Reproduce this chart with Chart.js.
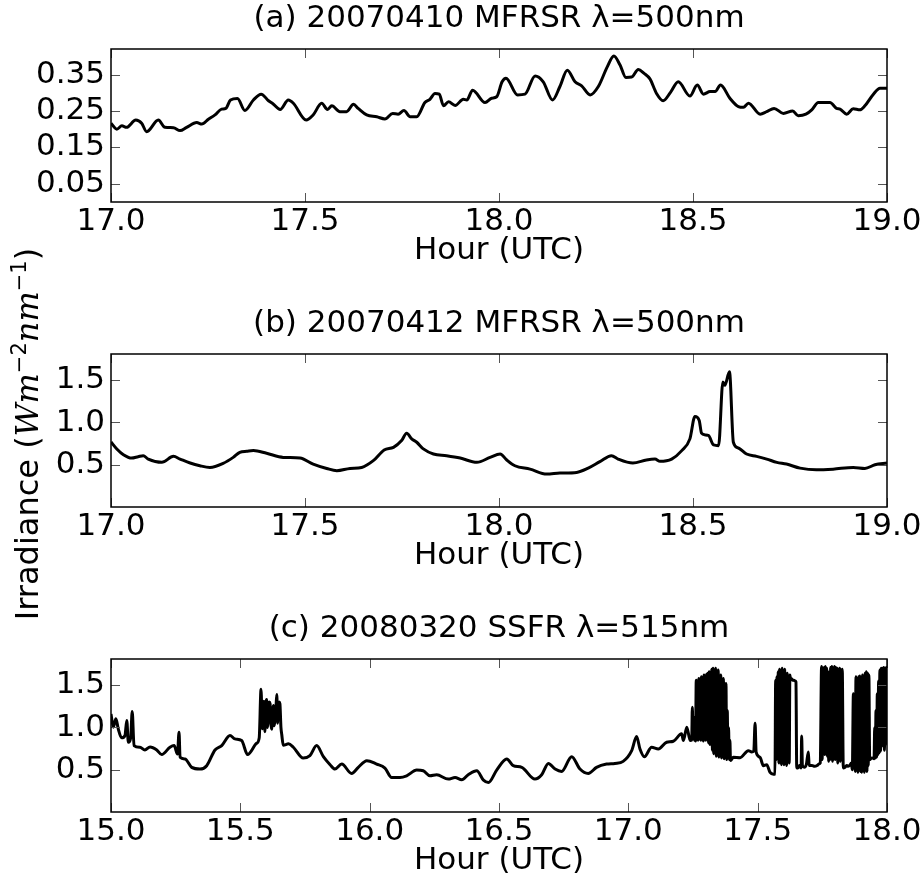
<!DOCTYPE html>
<html>
<head>
<meta charset="utf-8">
<script src="https://cdn.jsdelivr.net/npm/chart.js@4.4.0/dist/chart.umd.min.js"></script>
<style>
  html, body { margin: 0; padding: 0; background: #fff; overflow: hidden; }
  #wrap { position: relative; width: 923px; height: 880px; }
  canvas { position: absolute; left: 0; }
  #ylabel {
    position: absolute; left: -173px; top: 414px; width: 400px; height: 40px;
    line-height: 40px; text-align: center; white-space: nowrap;
    font-family: "DejaVu Sans"; font-size: 32px; color: #000;
    transform: rotate(-90deg);
  }
  #ylabel i { font-family: "DejaVu Serif"; }
  #ylabel sup { font-size: 21px; line-height: 0; }
</style>
</head>
<body>
<div id="wrap">
  <canvas id="panelA" width="923" height="305" style="top:0px"></canvas>
  <canvas id="panelB" width="923" height="305" style="top:305px"></canvas>
  <canvas id="panelC" width="923" height="305" style="top:610px"></canvas>
  <div id="ylabel">Irradiance (<i>Wm</i><sup>−2</sup><i>nm</i><sup>−1</sup>)</div>
</div>
<script>
// (a) 20070410 MFRSR
const hoursA = [
  17.000, 17.015, 17.028, 17.040, 17.064, 17.079, 17.092, 17.122, 17.139, 17.161,
  17.178, 17.195, 17.221, 17.234, 17.251, 17.268, 17.285, 17.296, 17.308, 17.326,
  17.345, 17.367, 17.387, 17.406, 17.418, 17.436, 17.457, 17.470, 17.503, 17.521,
  17.543, 17.558, 17.569, 17.590, 17.607, 17.625, 17.637, 17.659, 17.685, 17.706,
  17.726, 17.740, 17.755, 17.771, 17.788, 17.809, 17.822, 17.835, 17.846, 17.857,
  17.870, 17.887, 17.908, 17.917, 17.932, 17.964, 17.981, 17.994, 18.008, 18.018,
  18.048, 18.067, 18.093, 18.114, 18.138, 18.157, 18.176, 18.196, 18.213, 18.235,
  18.256, 18.279, 18.296, 18.312, 18.327, 18.342, 18.359, 18.374, 18.389, 18.406,
  18.423, 18.442, 18.462, 18.492, 18.511, 18.527, 18.544, 18.557, 18.571, 18.595,
  18.617, 18.630, 18.643, 18.673, 18.690, 18.709, 18.733, 18.757, 18.771, 18.791,
  18.806, 18.823, 18.853, 18.870, 18.879, 18.896, 18.913, 18.930, 18.943, 18.965,
  18.982, 19.000
];
const irrA = [
  0.216, 0.200, 0.209, 0.205, 0.225, 0.216, 0.193, 0.225, 0.205, 0.204,
  0.196, 0.205, 0.218, 0.214, 0.227, 0.239, 0.255, 0.257, 0.280, 0.284,
  0.251, 0.280, 0.296, 0.278, 0.269, 0.254, 0.280, 0.271, 0.225, 0.239,
  0.271, 0.254, 0.264, 0.248, 0.248, 0.268, 0.257, 0.239, 0.234, 0.228,
  0.243, 0.241, 0.251, 0.234, 0.234, 0.273, 0.282, 0.298, 0.296, 0.264,
  0.275, 0.265, 0.282, 0.280, 0.307, 0.273, 0.285, 0.289, 0.330, 0.340,
  0.294, 0.296, 0.346, 0.330, 0.280, 0.317, 0.362, 0.330, 0.319, 0.294,
  0.317, 0.371, 0.401, 0.376, 0.342, 0.343, 0.364, 0.353, 0.338, 0.298,
  0.278, 0.301, 0.330, 0.291, 0.321, 0.296, 0.303, 0.303, 0.321, 0.285,
  0.262, 0.260, 0.271, 0.241, 0.248, 0.257, 0.243, 0.250, 0.237, 0.241,
  0.253, 0.273, 0.273, 0.257, 0.255, 0.241, 0.256, 0.253, 0.264, 0.296,
  0.312, 0.312
];

// (b) 20070412 MFRSR
const hoursB = [
  17.000, 17.015, 17.032, 17.053, 17.070, 17.083, 17.096, 17.131, 17.161, 17.178,
  17.204, 17.229, 17.255, 17.289, 17.315, 17.332, 17.350, 17.367, 17.401, 17.444,
  17.487, 17.521, 17.556, 17.582, 17.616, 17.646, 17.676, 17.704, 17.728, 17.749,
  17.762, 17.775, 17.788, 17.805, 17.831, 17.865, 17.900, 17.943, 17.977, 18.003,
  18.020, 18.041, 18.080, 18.123, 18.157, 18.200, 18.230, 18.260, 18.290, 18.307,
  18.345, 18.380, 18.402, 18.415, 18.445, 18.471, 18.492, 18.505, 18.516, 18.522,
  18.531, 18.540, 18.553, 18.566, 18.577, 18.582, 18.594, 18.604, 18.617, 18.638,
  18.664, 18.690, 18.716, 18.741, 18.776, 18.818, 18.861, 18.913, 18.943, 18.969,
  19.000
];
const irrB = [
  0.770, 0.687, 0.619, 0.579, 0.595, 0.607, 0.567, 0.528, 0.599, 0.567,
  0.520, 0.488, 0.468, 0.516, 0.587, 0.647, 0.659, 0.667, 0.635, 0.587,
  0.579, 0.508, 0.456, 0.429, 0.456, 0.468, 0.548, 0.675, 0.706, 0.786,
  0.873, 0.806, 0.766, 0.687, 0.627, 0.607, 0.579, 0.528, 0.587, 0.627,
  0.556, 0.488, 0.448, 0.389, 0.401, 0.409, 0.460, 0.536, 0.607, 0.567,
  0.520, 0.556, 0.567, 0.540, 0.567, 0.667, 0.806, 1.071, 1.024, 0.873,
  0.853, 0.845, 0.734, 0.726, 1.480, 1.440, 1.599, 0.766, 0.698, 0.627,
  0.599, 0.567, 0.528, 0.508, 0.460, 0.440, 0.448, 0.468, 0.456, 0.500,
  0.520
];

// (c) 20080320 SSFR
const hoursC = [
  15.000, 15.009, 15.019, 15.028, 15.041, 15.054, 15.061, 15.067, 15.076, 15.082,
  15.089, 15.112, 15.131, 15.151, 15.177, 15.196, 15.228, 15.244, 15.257, 15.263,
  15.267, 15.286, 15.312, 15.344, 15.370, 15.402, 15.428, 15.460, 15.479, 15.505,
  15.528, 15.563, 15.573, 15.580, 15.585, 15.588, 15.591, 15.595, 15.598, 15.602,
  15.605, 15.608, 15.612, 15.615, 15.618, 15.621, 15.625, 15.628, 15.631, 15.634,
  15.638, 15.641, 15.644, 15.647, 15.650, 15.653, 15.657, 15.660, 15.666, 15.686,
  15.705, 15.743, 15.769, 15.795, 15.821, 15.847, 15.866, 15.892, 15.930, 15.956,
  15.989, 16.027, 16.059, 16.085, 16.117, 16.143, 16.182, 16.207, 16.233, 16.259,
  16.304, 16.330, 16.356, 16.381, 16.414, 16.440, 16.459, 16.491, 16.530, 16.555,
  16.588, 16.639, 16.665, 16.691, 16.717, 16.742, 16.781, 16.813, 16.845, 16.877,
  16.916, 16.948, 16.980, 17.013, 17.032, 17.045, 17.062, 17.090, 17.116, 17.148,
  17.174, 17.206, 17.213, 17.226, 17.239,
  17.2450, 17.2475, 17.2500, 17.2525, 17.2550, 17.2575, 17.2600, 17.2625, 17.2650, 17.2675,
  17.2700, 17.2725, 17.2750, 17.2775, 17.2800, 17.2825, 17.2850, 17.2875, 17.2900, 17.2925,
  17.2950, 17.2975, 17.3000, 17.3025, 17.3050, 17.3075, 17.3100, 17.3125, 17.3150, 17.3175,
  17.3200, 17.3225, 17.3250, 17.3275, 17.3300, 17.3325, 17.3350, 17.3375, 17.3400, 17.3425,
  17.3450, 17.3475, 17.3500, 17.3525, 17.3550, 17.3575, 17.3600, 17.3625, 17.3650, 17.3675,
  17.3700, 17.3725, 17.3750, 17.3775, 17.3800, 17.3825, 17.3850, 17.3875, 17.3900, 17.3925,
  17.3950,
  17.406, 17.432, 17.464, 17.477, 17.485, 17.490, 17.494, 17.509, 17.522, 17.535,
  17.548, 17.561,
  17.5670, 17.5695, 17.5720, 17.5745, 17.5770, 17.5795, 17.5820, 17.5845, 17.5870, 17.5895,
  17.5920, 17.5945, 17.5970, 17.5995, 17.6020, 17.6045, 17.6070, 17.6095, 17.6120, 17.6145,
  17.6170, 17.6195, 17.6220, 17.6245, 17.6270, 17.6300, 17.6350, 17.6400, 17.6450, 17.6480,
  17.6510,
  17.655, 17.662, 17.668, 17.670, 17.673, 17.680, 17.688, 17.696, 17.699, 17.710,
  17.720, 17.730, 17.738, 17.742,
  17.7470, 17.7495, 17.7520, 17.7545, 17.7570, 17.7595, 17.7620, 17.7645, 17.7670, 17.7695,
  17.7720, 17.7745, 17.7770, 17.7795, 17.7820, 17.7845, 17.7870, 17.7895, 17.7920, 17.7945,
  17.7970, 17.7995, 17.8020, 17.8045, 17.8070, 17.8095, 17.8120, 17.8145, 17.8170, 17.8195,
  17.8220, 17.8245, 17.8270, 17.8310,
  17.838, 17.845, 17.850, 17.858, 17.862, 17.866,
  17.8700, 17.8725, 17.8750, 17.8775, 17.8800, 17.8825, 17.8850, 17.8875, 17.8900, 17.8925,
  17.8950, 17.8975, 17.9000, 17.9025, 17.9050, 17.9075, 17.9100, 17.9125, 17.9150, 17.9175,
  17.9200, 17.9225, 17.9250, 17.9275, 17.9300, 17.9330, 17.9370, 17.9420,
  17.9500, 17.9525, 17.9550, 17.9575, 17.9600, 17.9625, 17.9650, 17.9675, 17.9700, 17.9725,
  17.9750, 17.9775, 17.9800, 17.9825, 17.9850, 17.9875, 17.9900, 17.9925, 17.9950, 17.9975,
  18.0000
];
const irrC = [
  1.160, 1.004, 1.103, 0.984, 0.877, 0.905, 1.083, 0.825, 0.877, 1.190,
  0.786, 0.766, 0.734, 0.770, 0.734, 0.679, 0.766, 0.786, 0.687, 0.944,
  0.647, 0.627, 0.528, 0.508, 0.548, 0.734, 0.786, 0.905, 0.865, 0.845,
  0.679, 0.813, 0.877, 1.452, 0.984, 1.250, 1.310, 0.950, 1.280, 1.330,
  1.000, 1.110, 1.300, 1.280, 1.050, 0.980, 1.200, 1.260, 1.020, 1.100,
  1.250, 1.390, 1.050, 1.160, 1.300, 1.280, 1.000, 0.920, 0.790, 0.806,
  0.766, 0.639, 0.667, 0.786, 0.655, 0.560, 0.508, 0.567, 0.456, 0.528,
  0.607, 0.567, 0.520, 0.408, 0.408, 0.428, 0.496, 0.488, 0.428, 0.440,
  0.389, 0.408, 0.381, 0.440, 0.488, 0.377, 0.349, 0.496, 0.627, 0.548,
  0.528, 0.389, 0.440, 0.575, 0.508, 0.480, 0.655, 0.508, 0.456, 0.528,
  0.567, 0.575, 0.599, 0.726, 0.893, 0.746, 0.655, 0.766, 0.746, 0.825,
  0.837, 0.925, 0.845, 1.004, 0.845,
  0.85, 1.24, 0.88, 1.12, 0.85, 1.02, 0.84, 1.56, 0.86, 1.30,
  0.85, 1.58, 0.90, 1.50, 0.85, 1.60, 0.88, 1.56, 0.84, 1.62,
  1.10, 1.45, 0.85, 1.63, 0.90, 1.64, 0.82, 1.66, 0.80, 1.55,
  0.85, 1.69, 0.73, 1.70, 0.69, 1.62, 0.72, 1.70, 0.66, 1.60,
  0.70, 1.68, 0.65, 1.56, 0.68, 1.62, 0.64, 1.50, 0.66, 1.58,
  0.63, 1.30, 0.66, 1.52, 0.62, 1.20, 0.64, 1.00, 0.62, 0.85,
  0.61,
  0.647, 0.643, 0.726, 0.710, 0.720, 1.050, 0.710, 0.647, 0.548, 0.560,
  0.468, 0.448,
  0.45, 1.56, 0.62, 1.60, 0.75, 1.66, 0.58, 1.69, 0.70, 1.65,
  0.56, 1.70, 0.80, 1.67, 0.56, 1.69, 0.65, 1.62, 0.55, 1.64,
  0.70, 1.60, 0.58, 1.62, 1.57, 1.58, 1.56, 1.56, 1.55, 1.54,
  0.52,
  0.52, 0.55, 0.52, 0.90, 0.55, 0.53, 0.56, 0.71, 0.55, 0.55,
  0.54, 0.55, 0.57, 0.58,
  1.72, 0.62, 1.70, 0.75, 1.71, 0.68, 1.72, 1.58, 1.70, 0.66,
  1.66, 0.60, 1.56, 0.62, 1.71, 0.95, 1.72, 0.60, 1.70, 0.70,
  1.72, 0.62, 1.71, 0.85, 1.70, 0.58, 1.69, 0.64, 1.70, 0.60,
  1.68, 1.66, 1.69, 0.52,
  0.53, 0.55, 0.54, 0.56, 0.58, 0.50,
  1.40, 0.52, 1.20, 0.48, 1.60, 0.50, 1.58, 0.47, 1.60, 0.55,
  1.61, 0.48, 1.59, 0.47, 1.62, 0.50, 1.60, 0.47, 1.64, 0.52,
  1.66, 0.48, 1.64, 0.55, 1.62, 0.62, 0.63, 0.64,
  0.63, 1.00, 0.64, 1.20, 0.65, 1.40, 0.68, 1.55, 0.70, 1.68,
  0.72, 1.70, 0.85, 1.70, 0.78, 1.71, 0.73, 1.70, 0.80, 1.71,
  1.00
];

const xTicksAB = [17.0, 17.5, 18.0, 18.5, 19.0];
const xTicksC = [15.0, 15.5, 16.0, 16.5, 17.0, 17.5, 18.0];
const yTicksA = [0.05, 0.15, 0.25, 0.35];
const yTicksBC = [0.5, 1.0, 1.5];

const FONT = "DejaVu Sans";

// matplotlib style: inward tick marks on all four sides and a closed frame
const frameTicks = {
  id: "frameTicks",
  afterDatasetsDraw(chart) {
    const ctx = chart.ctx;
    const a = chart.chartArea;
    const sx = chart.scales.x, sy = chart.scales.y;
    ctx.save();
    ctx.strokeStyle = "#555";
    ctx.lineWidth = 1;
    ctx.beginPath();
    sx.ticks.forEach(t => {
      const p = Math.round(sx.getPixelForValue(t.value)) + 0.5;
      ctx.moveTo(p, a.bottom); ctx.lineTo(p, a.bottom - 9);
      ctx.moveTo(p, a.top); ctx.lineTo(p, a.top + 9);
    });
    sy.ticks.forEach(t => {
      const p = Math.round(sy.getPixelForValue(t.value)) + 0.5;
      ctx.moveTo(a.left, p); ctx.lineTo(a.left + 9, p);
      ctx.moveTo(a.right, p); ctx.lineTo(a.right - 9, p);
    });
    ctx.stroke();
    ctx.strokeStyle = "#000";
    ctx.lineWidth = 1.5;
    ctx.strokeRect(a.left, a.top, a.right - a.left, a.bottom - a.top);
    ctx.restore();
  }
};

function makePanel(id, title, hours, values, xTicks, yMax, yTicks, digits) {
  new Chart(document.getElementById(id), {
    type: "line",
    plugins: [frameTicks],
    data: {
      datasets: [{
        data: hours.map((h, i) => ({ x: h, y: values[i] })),
        borderColor: "#000",
        borderWidth: 3,
        pointRadius: 0,
        cubicInterpolationMode: "monotone",
        borderJoinStyle: "round",
        fill: false
      }]
    },
    options: {
      responsive: false,
      animation: false,
      layout: { padding: { left: 0, right: 36, top: 0, bottom: 0 } },
      plugins: {
        legend: { display: false },
        tooltip: { enabled: false },
        title: {
          display: true,
          fullSize: false,
          text: title,
          color: "#000",
          font: { family: FONT, size: 31, weight: "normal" },
          padding: { top: 0, bottom: 11.8 }
        }
      },
      scales: {
        x: {
          type: "linear",
          min: xTicks[0],
          max: xTicks[xTicks.length - 1],
          afterBuildTicks: s => { s.ticks = xTicks.map(v => ({ value: v })); },
          afterFit: s => { s.height = 103; s.paddingLeft = 0; s.paddingRight = 0; },
          grid: { display: false, drawTicks: false },
          border: { display: false },
          ticks: {
            padding: 1,
            color: "#000",
            maxRotation: 0,
            font: { family: FONT, size: 31 },
            callback: v => v.toFixed(1)
          },
          title: {
            display: true,
            text: "Hour (UTC)",
            color: "#000",
            font: { family: FONT, size: 31 },
            padding: { top: 0, bottom: 35 }
          }
        },
        y: {
          min: 0,
          max: yMax,
          afterBuildTicks: s => { s.ticks = yTicks.map(v => ({ value: v })); },
          afterFit: s => { s.width = 111; },
          grid: { display: false, drawTicks: false },
          border: { display: false },
          ticks: {
            padding: 6,
            color: "#000",
            font: { family: FONT, size: 31 },
            callback: v => v.toFixed(digits)
          }
        }
      }
    }
  });
}

makePanel("panelA", "(a) 20070410 MFRSR λ=500nm", hoursA, irrA, xTicksAB, 0.42, yTicksA, 2);
makePanel("panelB", "(b) 20070412 MFRSR λ=500nm", hoursB, irrB, xTicksAB, 1.81, yTicksBC, 1);
makePanel("panelC", "(c) 20080320 SSFR λ=515nm", hoursC, irrC, xTicksC, 1.81, yTicksBC, 1);
</script>
</body>
</html>
